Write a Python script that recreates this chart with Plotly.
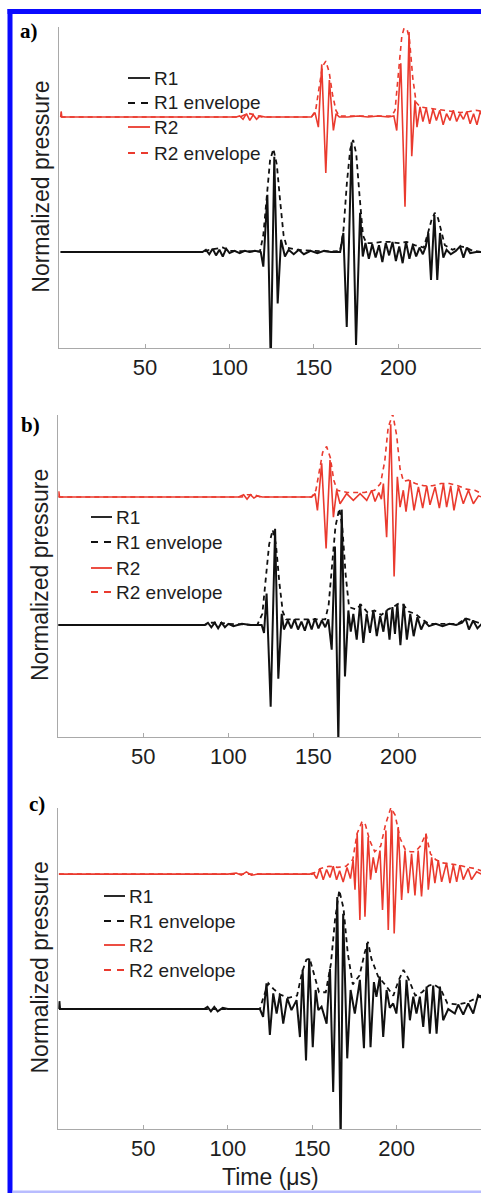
import plotly.graph_objects as go

W, H = 481, 1193

# ---------------- data (time in microseconds, normalized pressure) ----------------
# Panel a
a_r1_t = [0, 84, 86, 88, 90, 92, 94, 96, 98, 100, 103, 106, 109, 112, 115, 118.5, 120.0, 122.4, 124.4, 126.5, 128.5, 130.5, 132.8, 135, 138, 141, 144, 148, 152, 156, 160, 165.5, 167.4, 169.4, 172.3, 174.9, 177.3, 178.9, 180.5, 182.5, 184.5, 186.5, 188.5, 190.5, 192.5, 194.5, 196.5, 198.5, 200.5, 202.5, 204.5, 206.5, 208.5, 210.5, 212.5, 214.5, 216.2, 217.7, 219.3, 221.3, 223.0, 224.6, 226.6, 228.5, 231, 234, 236.5, 238.5, 240.5, 242.5, 246, 250]
a_r1_v = [0, 0, 0.02, -0.02, 0.03, -0.03, 0.02, -0.04, 0.03, -0.01, 0.01, -0.01, 0.01, 0, 0.01, 0, -0.13, 0.51, -1.0, 0.85, -0.46, 0.11, -0.04, 0.02, -0.02, 0.02, -0.02, 0.01, -0.01, 0.01, 0, 0, 0.17, -0.67, 0.98, -0.83, 0.35, -0.04, 0.08, -0.06, 0.07, -0.05, 0.06, -0.09, 0.08, -0.03, 0.09, -0.08, 0.05, -0.1, 0.09, -0.06, 0.06, -0.04, 0.04, -0.02, 0.05, 0.17, -0.25, 0.33, -0.25, 0.17, -0.05, 0.02, -0.02, 0.01, 0.05, -0.05, 0.04, -0.01, 0, 0]
a_r1e_t = [0, 84, 88, 92, 96, 100, 118, 120, 122, 124, 126, 128, 130, 132, 134, 140, 150, 160, 165.5, 167.5, 169.5, 171.5, 173.2, 175, 177, 179, 181, 185, 190, 195, 200, 205, 210, 215, 217.5, 219.5, 221.5, 223.5, 225.5, 227.5, 232, 237, 240, 244, 250]
a_r1e_v = [0, 0, 0.02, 0.03, 0.04, 0.01, 0.005, 0.15, 0.52, 0.82, 0.92, 0.78, 0.45, 0.15, 0.04, 0.02, 0.01, 0.005, 0.01, 0.2, 0.62, 0.92, 1.0, 0.88, 0.5, 0.15, 0.08, 0.08, 0.09, 0.09, 0.08, 0.09, 0.06, 0.04, 0.17, 0.28, 0.35, 0.3, 0.18, 0.06, 0.02, 0.05, 0.04, 0.01, 0]
a_r2_t = [0, 0.3, 0.7, 104, 106, 108, 110, 112, 114, 116, 118, 121, 130, 140, 148.5, 150.6, 152.6, 154.6, 157.0, 159.1, 161.5, 163.1, 165, 170, 176, 182, 188, 194, 197.3, 199.0, 201.4, 203.9, 206.3, 207.9, 209.8, 211.0, 212.8, 214.5, 216.5, 218.5, 220.5, 222.5, 224.5, 226.5, 228.5, 230.5, 232.5, 234.5, 236.5, 238.5, 240.5, 242.5, 244.5, 246.5, 248.5, 250]
a_r2_v = [0, 0.05, 0, 0, 0.01, -0.02, 0.03, -0.03, 0.02, -0.02, 0.01, 0, 0, 0, 0, 0.04, -0.09, 0.47, -0.5, 0.33, -0.12, 0.03, 0, 0, 0.01, 0, 0.01, 0, 0.01, -0.12, 0.48, -0.8, 0.76, -0.35, 0.15, -0.09, 0.09, -0.04, 0.08, -0.06, 0.07, -0.03, 0.06, -0.07, 0.03, -0.03, 0.06, -0.04, 0.03, -0.02, 0.05, -0.06, 0.03, -0.07, 0.05, 0]
a_r2e_t = [0, 106, 109, 112, 115, 119, 148.5, 151, 153, 155, 157, 159, 161, 163, 165, 196, 198, 200, 202, 204.2, 206.5, 208.5, 210.5, 213, 217, 222, 227, 232, 237, 242, 246, 250]
a_r2e_v = [0, 0, 0.02, 0.03, 0.02, 0, 0, 0.06, 0.26, 0.45, 0.5, 0.4, 0.2, 0.06, 0.01, 0.01, 0.06, 0.36, 0.72, 0.84, 0.7, 0.35, 0.13, 0.09, 0.08, 0.07, 0.06, 0.05, 0.04, 0.05, 0.06, 0.05]

# Panel b
b_r1_t = [0, 86, 88, 90, 92, 94, 96, 98, 100, 103, 108, 113, 117, 119.6, 121.0, 122.5, 124.9, 127.5, 129.4, 131.4, 132.7, 135, 137, 139, 141, 143, 145, 147, 149, 151, 153, 155, 157, 158.8, 160.8, 162.7, 164.7, 166.7, 168.6, 170.6, 172.0, 173.5, 175.5, 177.5, 179.4, 181.4, 183.3, 185.3, 187.3, 189.3, 191.2, 193.0, 194.8, 196.5, 198.0, 199.4, 201.2, 203.1, 205.0, 207.0, 209.0, 211.2, 213.4, 215.5, 218, 222, 226, 230, 234, 237.5, 239.5, 241.5, 244.0, 246.5, 249]
b_r1_v = [0, 0, 0.02, -0.02, 0.02, -0.03, 0.02, -0.02, 0.01, -0.01, 0.01, 0, 0, 0, -0.07, 0.28, -0.73, 0.86, -0.48, 0.10, -0.04, 0.04, -0.03, 0.05, -0.04, 0.03, -0.05, 0.05, -0.04, 0.06, -0.03, 0.04, -0.02, 0.05, -0.22, 0.70, -1.05, 1.03, -0.46, 0.13, -0.06, 0.10, -0.13, 0.19, -0.16, 0.10, -0.07, 0.13, -0.10, 0.08, -0.06, 0.13, -0.13, 0.16, -0.08, 0.19, -0.18, 0.19, -0.13, 0.10, -0.10, 0.07, -0.04, 0.03, -0.01, 0.01, -0.01, 0.01, 0, 0.02, 0.06, -0.04, 0.04, -0.03, 0.01]
b_r1e_t = [0, 86, 90, 95, 100, 117, 120, 122, 124, 126.1, 128, 130, 132, 134, 140, 150, 157, 159, 161, 163, 165.3, 167, 169, 171, 175, 178, 182, 186, 190, 194, 197, 200, 203, 206, 210, 214, 218, 235, 239.5, 243, 249]
b_r1e_v = [0, 0, 0.02, 0.02, 0.01, 0, 0.1, 0.4, 0.72, 0.85, 0.72, 0.38, 0.12, 0.05, 0.05, 0.05, 0.05, 0.18, 0.52, 0.88, 1.04, 0.88, 0.45, 0.16, 0.14, 0.18, 0.11, 0.13, 0.09, 0.14, 0.16, 0.19, 0.18, 0.12, 0.1, 0.05, 0.01, 0.01, 0.06, 0.04, 0.01]
b_r2_t = [0, 0.3, 0.7, 106, 109, 111, 113, 115, 117, 120, 130, 140, 149, 151.0, 152.4, 154.9, 157.5, 159.8, 161.8, 163.7, 165.7, 169.6, 173.5, 177.5, 181.4, 184.3, 186.3, 188.5, 190.0, 191.2, 193.1, 195.5, 197.5, 199.4, 201.0, 202.9, 204.5, 206.9, 209.2, 211.8, 214.3, 216.7, 218.6, 221.6, 224.1, 226.5, 228.4, 230.8, 232.7, 235.3, 238.2, 241.2, 244.1, 247.1, 249]
b_r2_v = [0, 0.05, 0, 0, 0.02, -0.02, 0.02, -0.01, 0.01, 0, 0, 0, 0, 0.03, -0.12, 0.30, -0.46, 0.33, -0.18, 0.06, -0.06, 0.03, -0.03, 0.03, -0.03, 0.06, -0.04, 0.04, -0.02, 0.12, -0.36, 0.65, -0.71, 0.18, -0.09, 0.06, -0.13, 0.15, -0.12, 0.09, -0.10, 0.10, -0.07, 0.09, -0.10, 0.12, -0.09, 0.10, -0.12, 0.09, -0.06, 0.06, -0.06, 0.01, 0]
b_r2e_t = [0, 108, 111, 115, 119, 149, 151.5, 153.5, 155.5, 157.8, 160, 162, 164, 170, 180, 186, 189.5, 192, 194, 196.7, 199, 201, 203, 206, 210, 215, 220, 225, 230, 235, 240, 245, 249]
b_r2e_v = [0, 0, 0.02, 0.02, 0, 0, 0.06, 0.22, 0.4, 0.45, 0.35, 0.15, 0.06, 0.04, 0.04, 0.06, 0.12, 0.32, 0.62, 0.74, 0.55, 0.25, 0.14, 0.15, 0.12, 0.1, 0.1, 0.12, 0.12, 0.1, 0.07, 0.06, 0.03]

# Panel c
c_r1_t = [0, 0.3, 0.7, 86, 88, 90, 92, 94, 97, 100, 105, 110, 115, 119.0, 120.9, 122.9, 124.9, 126.9, 128.9, 130.8, 132.8, 135.2, 137.7, 140.7, 142.7, 144.3, 146.3, 148.2, 150.3, 152.0, 153.6, 155.5, 158.5, 160.5, 162.4, 164.8, 166.8, 168.3, 170.7, 172.7, 175.2, 178.2, 180.6, 182.5, 184.5, 186.5, 188.0, 190.0, 192.0, 194.0, 195.9, 197.9, 199.8, 201.8, 203.8, 205.8, 207.8, 209.8, 211.7, 213.7, 215.7, 217.7, 219.6, 221.6, 223.6, 225.6, 227.5, 230.5, 234.4, 236.4, 239.4, 242.3, 245.3, 248.2, 250]
c_r1_v = [0, 0.07, 0, 0, 0.02, -0.02, 0.02, -0.02, 0.01, 0, 0, 0, 0, 0, -0.07, 0.23, -0.23, 0.14, -0.04, 0.125, -0.13, 0.095, -0.01, 0.08, -0.25, 0.35, -0.46, 0.45, -0.34, 0.17, -0.01, 0.02, -0.13, 0.36, -0.74, 1.0, -1.2, 0.85, -0.44, 0.17, -0.04, 0.26, -0.35, 0.59, -0.34, 0.24, 0.11, 0.29, -0.25, 0.17, 0.01, 0.05, -0.04, 0.26, -0.35, 0.26, -0.1, 0.11, -0.04, 0.11, -0.16, 0.2, -0.22, 0.21, -0.22, 0.2, -0.1, 0, -0.04, 0.04, -0.05, 0.05, -0.04, 0.125, 0.1]
c_r1e_t = [0, 119, 121, 124, 127, 131, 136, 141, 144, 146.5, 148.5, 151, 154, 158, 161, 163.5, 166, 168.5, 171, 174, 178, 181, 183, 185, 189, 193, 198, 201, 204, 207, 211, 215, 219, 222, 226, 230, 236, 242, 248, 250]
c_r1e_v = [0, 0, 0.1, 0.23, 0.18, 0.13, 0.1, 0.12, 0.33, 0.44, 0.45, 0.32, 0.15, 0.15, 0.4, 0.8, 1.06, 0.9, 0.5, 0.22, 0.3, 0.5, 0.6, 0.45, 0.29, 0.22, 0.12, 0.25, 0.35, 0.27, 0.12, 0.15, 0.21, 0.22, 0.18, 0.05, 0.04, 0.06, 0.1, 0.12]
c_r2_t = [0, 100, 105, 108, 111, 114, 118, 130, 140, 148.5, 150.6, 152.6, 154.5, 156.5, 158.5, 160.5, 162.4, 164.4, 166.2, 168.3, 170.6, 172.6, 174.2, 175.3, 176.6, 178.2, 179.6, 181.2, 183.1, 184.5, 186.1, 187.7, 190.1, 191.6, 193.6, 195.0, 197.0, 198.5, 200.9, 202.9, 204.9, 206.8, 208.8, 210.8, 212.7, 214.7, 217.3, 218.7, 220.7, 222.6, 224.6, 226.6, 229.5, 231.5, 233.5, 235.5, 237.4, 239.4, 242.3, 244.3, 247.3, 250]
c_r2_v = [0, 0, 0.01, -0.01, 0.02, -0.01, 0, 0, 0, 0, 0.01, -0.04, 0.05, -0.05, 0.04, -0.03, 0.07, -0.05, 0.03, -0.07, 0.06, -0.04, 0.125, -0.14, 0.36, -0.41, 0.45, -0.38, 0.33, -0.05, 0.15, 0.01, 0.21, -0.32, 0.39, -0.5, 0.57, -0.53, 0.42, -0.23, 0.21, -0.17, 0.18, -0.19, 0.21, -0.2, 0.36, -0.14, 0.15, -0.08, 0.125, -0.07, 0.1, -0.08, 0.08, -0.07, 0.08, -0.05, 0.05, -0.05, 0.02, 0]
c_r2e_t = [0, 150, 155, 160, 165, 170, 174, 176.5, 179.5, 181.5, 184, 187, 190.5, 193.5, 196.5, 199, 202, 205, 208, 211, 214, 217.3, 220, 223, 227, 232, 237, 242, 246, 250]
c_r2e_v = [0, 0, 0.05, 0.07, 0.06, 0.07, 0.13, 0.36, 0.47, 0.44, 0.3, 0.2, 0.25, 0.45, 0.59, 0.53, 0.32, 0.22, 0.2, 0.2, 0.25, 0.36, 0.18, 0.13, 0.1, 0.09, 0.08, 0.06, 0.05, 0.03]

series_names = ["R1", "R1 envelope", "R2", "R2 envelope"]
panel_letters = ["a)", "b)", "c)"]
tick_vals = [50, 100, 150, 200, 250]
tick_text = ["50", "100", "150", "200", "250"]
y_title = "Normalized pressure"
x_title = "Time (\u03bcs)"

# ---------------- styling / layout ----------------
BLACK = "#111111"
RED = "#ea3a2e"
AXC = "#a9a9a9"
TXT = "#1e1e1e"
FONT = "Liberation Sans, Arial, sans-serif"


def px(x):
    return x / W


def py(y):
    return 1 - y / H


panels = [
    dict(data=[(a_r1_t, a_r1_v), (a_r1e_t, a_r1e_v), (a_r2_t, a_r2_v), (a_r2e_t, a_r2e_v)],
         red_off=1.205, xleft=59.3, xrange=[-0.8, 248.9], top=27, bottom=348, yrange=[-0.857, 2.009],
         leg_line=(128, 150), leg_text=153, leg_rows=[78, 103, 127, 153],
         label_xy=(29, 31), ytitle_xy=(40.7, 187)),
    dict(data=[(b_r1_t, b_r1_v), (b_r1e_t, b_r1e_v), (b_r2_t, b_r2_v), (b_r2e_t, b_r2e_v)],
         red_off=1.143, xleft=58.3, xrange=[0, 248.6], top=415, bottom=737, yrange=[-1.0, 1.875],
         leg_line=(91, 112), leg_text=115, leg_rows=[517, 542, 568, 592],
         label_xy=(30, 425), ytitle_xy=(40, 575)),
    dict(data=[(c_r1_t, c_r1_v), (c_r1e_t, c_r1e_v), (c_r2_t, c_r2_v), (c_r2e_t, c_r2e_v)],
         red_off=1.205, xleft=58.3, xrange=[-0.35, 249.9], top=808, bottom=1129, yrange=[-1.071, 1.795],
         leg_line=(104, 125), leg_text=128, leg_rows=[896, 921, 945, 970],
         label_xy=(37, 804), ytitle_xy=(39.5, 968)),
]

styles = [
    dict(color=BLACK, width=2.0, dash="solid"),
    dict(color=BLACK, width=1.8, dash="5px,4px"),
    dict(color=RED, width=1.6, dash="solid"),
    dict(color=RED, width=1.6, dash="5px,4px"),
]
leg_dash = ["solid", "7px,6px", "solid", "7px,6px"]

fig = go.Figure()
shapes = []
annotations = []
layout_axes = {}

for i, p in enumerate(panels):
    sfx = "" if i == 0 else str(i + 1)
    xa, ya = "x" + sfx, "y" + sfx
    for k, ((t, v), st) in enumerate(zip(p["data"], styles)):
        assert len(t) == len(v), (i, k, len(t), len(v))
        off = p["red_off"] if k >= 2 else 0.0
        fig.add_trace(go.Scatter(
            x=t, y=[val + off for val in v], mode="lines", name=series_names[k],
            line=dict(color=st["color"], width=st["width"], dash=st["dash"]),
            xaxis=xa, yaxis=ya, showlegend=False, hoverinfo="skip"))
    layout_axes["xaxis" + sfx] = dict(
        domain=[px(p["xleft"]), 1], range=p["xrange"], anchor=ya,
        showgrid=False, zeroline=False, showline=True, linecolor=AXC, linewidth=1,
        ticks="inside", ticklen=4, tickcolor=AXC, tickwidth=1,
        tickmode="array", tickvals=tick_vals, ticktext=tick_text,
        tickfont=dict(family=FONT, size=22, color=TXT))
    layout_axes["yaxis" + sfx] = dict(
        domain=[py(p["bottom"]), py(p["top"])], range=p["yrange"], anchor=xa,
        showgrid=False, zeroline=False, showline=True, linecolor=AXC, linewidth=1,
        showticklabels=False, ticks="")
    # legend (drawn manually to match row spacing)
    for k in range(4):
        yy = py(p["leg_rows"][k])
        shapes.append(dict(type="line", xref="paper", yref="paper",
                           x0=px(p["leg_line"][0]), x1=px(p["leg_line"][1]), y0=yy, y1=yy,
                           line=dict(color=styles[k]["color"], width=1.8, dash=leg_dash[k])))
        annotations.append(dict(text=series_names[k], xref="paper", yref="paper",
                                x=px(p["leg_text"]), y=yy, xanchor="left", yanchor="middle",
                                showarrow=False, borderpad=0,
                                font=dict(family=FONT, size=19, color=TXT)))
    annotations.append(dict(text="<b>" + panel_letters[i] + "</b>", xref="paper", yref="paper",
                            x=px(p["label_xy"][0]), y=py(p["label_xy"][1]),
                            xanchor="center", yanchor="middle", showarrow=False,
                            font=dict(family="Liberation Serif, Times New Roman, serif", size=21, color="black")))
    annotations.append(dict(text=y_title, xref="paper", yref="paper",
                            x=px(p["ytitle_xy"][0]), y=py(p["ytitle_xy"][1]),
                            xanchor="center", yanchor="middle", textangle=-90, showarrow=False,
                            font=dict(family=FONT, size=23, color=TXT)))

annotations.append(dict(text=x_title, xref="paper", yref="paper", x=px(270), y=py(1177),
                        xanchor="center", yanchor="middle", showarrow=False,
                        font=dict(family=FONT, size=23, color=TXT)))

# blue frame of the figure
BLUE = "#0a0aff"
shapes += [
    dict(type="rect", xref="paper", yref="paper", x0=px(7.5), x1=px(12.5), y0=0, y1=py(9),
         line=dict(width=0), fillcolor=BLUE, layer="above"),
    dict(type="rect", xref="paper", yref="paper", x0=px(7.5), x1=1, y0=py(14), y1=py(9),
         line=dict(width=0), fillcolor=BLUE, layer="above"),
    dict(type="rect", xref="paper", yref="paper", x0=px(12.5), x1=1, y0=0, y1=py(1190.5),
         line=dict(width=0), fillcolor="#b8bcff", layer="above"),
]

fig.update_layout(
    width=W, height=H, margin=dict(l=0, r=0, t=0, b=0),
    paper_bgcolor="white", plot_bgcolor="white",
    showlegend=False, shapes=shapes, annotations=annotations,
    font=dict(family=FONT, color=TXT),
    **layout_axes)

fig.write_html("out.html", config={"displayModeBar": False},
               post_script="document.body.style.margin='0';document.body.style.overflow='hidden';")
